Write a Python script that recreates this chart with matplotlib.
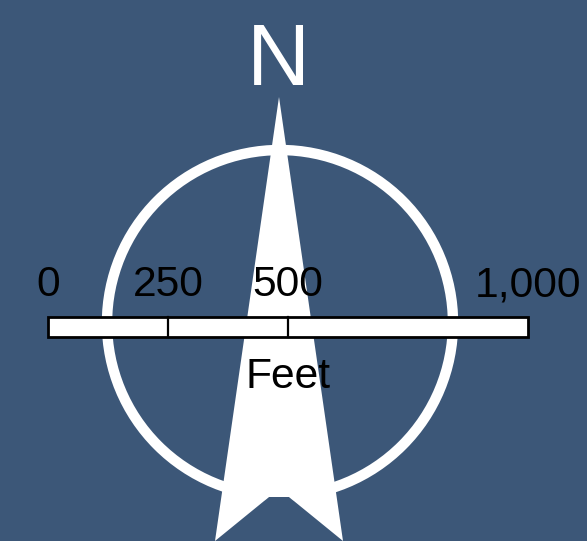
import matplotlib
matplotlib.use('Agg')
import matplotlib.pyplot as plt
from matplotlib.patches import Circle, Polygon, Rectangle

plt.rcParams['font.family'] = ['Liberation Sans', 'DejaVu Sans']

W, H = 587, 541
BG = '#3c5778'

# scale bar, distance in feet
scale_ticks = [0, 250, 500, 1000]
scale_labels = ['0', '250', '500', '1,000']
scale_unit = 'Feet'

# north arrow outline, picture pixels
arrow_x = [279, 343, 289, 269, 215]
arrow_y = [97, 541, 497, 497, 541]

# pixels per foot along the bar
x0 = 48
px_per_ft = 0.48


def bar_x(ft):
    return x0 + ft * px_per_ft


fig = plt.figure(figsize=(W / 100, H / 100), dpi=100, facecolor=BG)
ax = fig.add_axes([0, 0, 1, 1])
ax.set_xlim(0, W)
ax.set_ylim(H, 0)
ax.axis('off')

ax.add_patch(Circle((280, 323), 173, fc='none', ec='white', lw=7.5))
# the ring stops at the notch under the arrow
ax.add_patch(Polygon(list(zip(arrow_x[1:], arrow_y[1:])), closed=True, fc=BG, ec=BG, lw=0.5))
ax.add_patch(Polygon(list(zip(arrow_x, arrow_y)), closed=True, fc='white', ec='none'))

ax.text(278, 85, 'N', color='white', fontsize=63, ha='center', va='baseline')

ax.add_patch(Rectangle((bar_x(0), 317), bar_x(1000) - bar_x(0), 20, fc='white', ec='black', lw=2))
for t in scale_ticks[1:-1]:
    ax.plot([bar_x(t), bar_x(t)], [317, 337], color='black', lw=1.6)

for t, lab in zip(scale_ticks, scale_labels):
    ax.text(bar_x(t), 296.5, lab, color='black', fontsize=30.7, ha='center', va='baseline')
ax.text(bar_x(500), 387.5, scale_unit, color='black', fontsize=30.7, ha='center', va='baseline')

fig.savefig('out.png', dpi=100, facecolor=BG)
